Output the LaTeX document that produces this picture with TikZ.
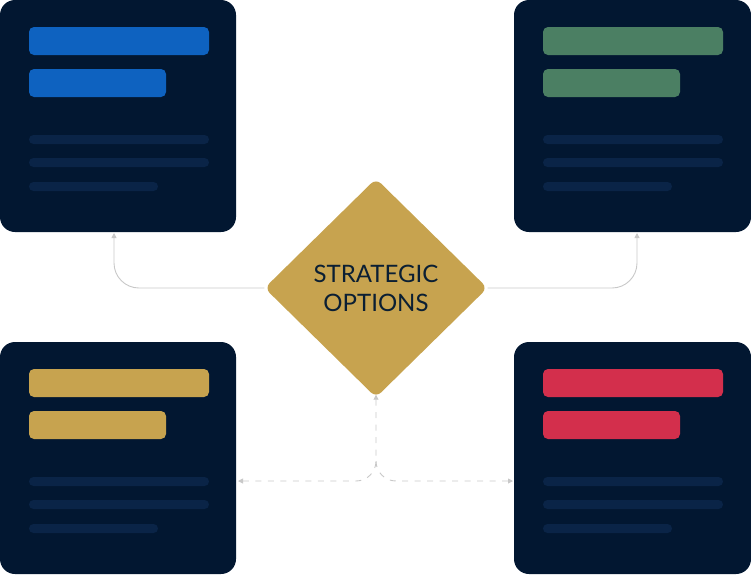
\documentclass[tikz,border=0pt]{standalone}
\usepackage{fontspec}
\setmainfont{Lato}
\usetikzlibrary{shapes.geometric,arrows.meta}
\definecolor{cardbg}{HTML}{021731}
\definecolor{faint}{HTML}{0A2447}
\definecolor{cblue}{HTML}{0E62C0}
\definecolor{cgreen}{HTML}{4B7F63}
\definecolor{cgold}{HTML}{C7A34F}
\definecolor{cred}{HTML}{D32F4C}
\definecolor{txt}{HTML}{0B1F33}
\definecolor{conn}{HTML}{C8C8C8}
\tikzset{
  card/.style={anchor=north west, rectangle, rounded corners=15pt, fill=cardbg,
    minimum width=236pt, minimum height=232pt, inner sep=0pt, outer sep=0pt},
  bar/.style={fill=#1, rounded corners=5pt},
  faintline/.style={fill=faint, rounded corners=4.5pt},
  choice/.style={diamond, fill=cgold, rounded corners=7pt, minimum width=223pt,
    minimum height=219pt, inner sep=0pt, align=center, text=txt,
    font=\fontsize{24}{29}\selectfont},
  link/.style={draw=conn, line width=0.9pt, rounded corners=25pt,
    -{Triangle[width=5pt,length=5pt]}},
  dlink/.style={draw=conn, line width=0.9pt, rounded corners=20pt,
    dash pattern=on 6pt off 6.5pt}
}
\newcommand\cardbars[2]{%
  \begin{scope}[shift={(#1)}]
    \fill[bar=#2] (29,27) rectangle (209,55);
    \fill[bar=#2] (29,69) rectangle (166,97);
    \fill[faintline] (29,135) rectangle (209,144);
    \fill[faintline] (29,158) rectangle (209,167);
    \fill[faintline] (29,182) rectangle (158,191);
  \end{scope}}
\begin{document}
\begin{tikzpicture}[x=1pt,y=-1pt]
\useasboundingbox (0,0) rectangle (751,574);
\node[card] (tl) at (0,0) {};
\node[card, minimum width=237pt] (tr) at (514,0) {};
\node[card] (bl) at (0,342) {};
\node[card, minimum width=237pt] (br) at (514,342) {};
\cardbars{0,0}{cblue}
\cardbars{514,0}{cgreen}
\cardbars{0,342}{cgold}
\cardbars{514,342}{cred}
\node[choice] (d) at (376,288) {STRATEGIC\\OPTIONS};
\draw[link] (d.west) -| ([xshift=-4pt,yshift=-1pt]tl.south);
\draw[link] (d.east) -| ([xshift=4.5pt,yshift=-1pt]tr.south);
\coordinate (jl) at ([xshift=2pt]bl.east |- 0,481);
\coordinate (jr) at ([xshift=-1pt]br.west |- 0,481);
\coordinate (jv) at (d.south |- 0,461);
\draw[dlink, {Triangle[width=5pt,length=5pt]}-{Triangle[width=5pt,length=5pt]}] (jl) -| ([yshift=3pt]d.south);
\draw[dlink, {Triangle[width=5pt,length=5pt]}-] (jr) -| (jv);
\end{tikzpicture}
\end{document}
